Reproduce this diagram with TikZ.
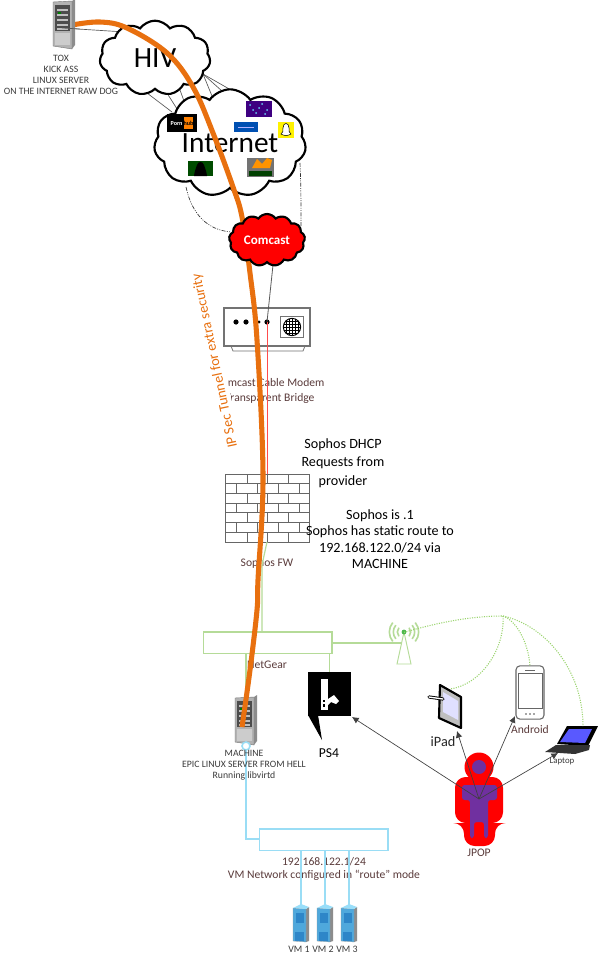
\documentclass[tikz,border=0pt]{standalone}
\usepackage{fontspec}
\setmainfont{Carlito}
\usetikzlibrary{shapes.symbols,arrows.meta,calc}
\definecolor{orangeline}{HTML}{E8700F}
\definecolor{greenline}{HTML}{B5DB98}
\definecolor{wifigreen}{HTML}{9AD46E}
\definecolor{blueline}{HTML}{9ADDF5}
\definecolor{lblbrown}{HTML}{5A3B3B}
\definecolor{lbldark}{HTML}{3A3A3A}
\definecolor{ppl}{HTML}{7030A0}
\newcommand{\fs}[1]{\fontsize{#1}{#1}\selectfont}
\tikzset{
  lbl/.style={inner sep=0pt,align=center,text=lbldark,font=\fs{7.3}},
  brn/.style={inner sep=0pt,align=center,text=lblbrown,font=\fs{8.7}},
  note/.style={inner sep=0pt,align=center,text=black,font=\fs{10.6}},
  cloudbox/.style={cloud,cloud puffs=11,cloud puff arc=110,aspect=1.5,draw=black,line width=1.6pt,fill=white,inner sep=0pt},
  anchorbox/.style={inner sep=0pt,outer sep=0pt},
  netbox/.style={inner sep=0pt,outer sep=0pt,draw,fill=white,line width=1pt},
  glink/.style={draw=greenline,line width=.9pt},
  blink/.style={draw=blueline,line width=1pt},
  wifi/.style={draw=wifigreen,line width=.8pt,dash pattern=on .8pt off 1pt},
  thin link/.style={draw=black!65,line width=.5pt},
  dashdot/.style={draw=black!80,line width=.5pt,dash pattern=on 3pt off 1pt on .7pt off 1pt on .7pt off 1pt},
  reach/.style={draw=black!75,line width=.5pt,-{Latex[length=5pt,width=5pt]}},
  pics/rack/.style={code={
    \fill[black!45] (8,-24)--(11,-26)--(11,20)--(8,24)--cycle;
    \fill[black!30,draw=black!55,line width=.3pt] (-11,-23)--(8,-24)--(8,24)--(-11,21)--cycle;
    \fill[black!70] (-9,-20) rectangle (6,6);
    \foreach \y in {-16,-11,-6,-1,3} \fill[black!25] (-7,\y) rectangle (4,\y+2);
    \fill[green!50!black] (-6,-13) rectangle (-3,-11);
    \fill[black!20] (-9,8) rectangle (6,20);
  }},
  pics/vmrack/.style={code={
    \fill[black!45] (5,-15)--(8,-17)--(8,17)--(5,18)--cycle;
    \fill[HTML4,draw=black!40,line width=.2pt] (-8,-16)--(5,-15)--(5,18)--(-8,17)--cycle;
    \fill[white!60!cyan] (-8,-16)--(0,-20)--(8,-17)--(5,-15)--cycle;
    \fill[HTML5] (-5,-11) rectangle (3,-1);
    \fill[HTML5] (-6,8) rectangle (3,17);
  }}
}
\definecolor{HTML4}{HTML}{4FA8DC}
\definecolor{HTML5}{HTML}{2E86C8}
\begin{document}
\begin{tikzpicture}[x=0.75pt,y=-0.75pt]
\useasboundingbox (0,0) rectangle (598,960);
\fill[white] (0,0) rectangle (598,960);

% --- anchors for the connectors
\node[anchorbox,minimum width=16.5pt,minimum height=36pt] (tox) at (64,25) {};
\node[anchorbox,minimum width=16.5pt,minimum height=36pt] (machine) at (246,721) {};
\coordinate (toxport) at (62,28);
\coordinate (hivleft) at (125,32);
\coordinate (h1) at (147,93); \coordinate (h2) at (165,90); \coordinate (h3) at (180,90);
\coordinate (h4) at (203,74);
\coordinate (i1) at (172,112); \coordinate (i2) at (179,112); \coordinate (i3) at (188,112);
\coordinate (i4) at (212,96); \coordinate (i5) at (232,100); \coordinate (i6) at (245,98);
\coordinate (ibl) at (186,187); \coordinate (ibr) at (300,163);
\coordinate (cl) at (231,232); \coordinate (cr) at (301,226);

% --- thin lines behind the clouds
\draw[thin link] (toxport) -- (hivleft);
\draw[thin link] (h1) -- (i1);
\draw[thin link] (h2) -- (i2);
\draw[thin link] (h3) -- (i3);
\draw[thin link] (h4) -- (i4);
\draw[thin link] (h4) -- (i5);
\draw[thin link] (h4) -- (i6);
\draw[dashdot] (ibl) .. controls (192,215) and (208,230) .. (cl);
\draw[dashdot] (ibr) .. controls (301,185) and (301,205) .. (cr);

% --- clouds
\node[cloudbox,minimum width=83pt,minimum height=56pt,font=\fs{22},text=black] (hiv) at (155,58) {HIV};
\node[cloudbox,minimum width=114pt,minimum height=76pt,font=\fs{22},text=black] (internet) at (230,143) {Internet};

% --- site icons in the cloud
\node[anchorbox,fill=black,minimum width=22.5pt,minimum height=13.5pt,text=white,font=\fs{4.6}\bfseries] (ph) at (182,123) {Porn\,\colorbox{orange}{\hspace{-3pt}\raisebox{0pt}[3pt][0pt]{\textcolor{black}{hub}}\hspace{-3pt}}};
\node[anchorbox,fill=blue!35!violet!75!black,minimum width=19.5pt,minimum height=12.5pt] (dark) at (259,109) {};
\foreach \a/\b in {250/105,256/113,262/104,267/110,259/108,253/110,265/114} \fill[cyan!60!white] (\a,\b) circle (1);
\node[anchorbox,fill=blue!55!cyan!70!black,minimum width=18pt,minimum height=7.5pt] (banner) at (246,127) {};
\fill[white!70!blue] (238,126.5) rectangle (254,128);
\node[anchorbox,fill=yellow,minimum width=12pt,minimum height=12pt] (snap) at (286,130) {};
\fill[white,draw=black,line width=.4pt] (281,134) .. controls (283,133) and (283,131) .. (283,128) .. controls (283,122) and (289,122) .. (289,128) .. controls (289,131) and (289,133) .. (291,134) .. controls (288,136) and (284,136) .. (281,134) -- cycle;
\node[anchorbox,fill=green!30!black,minimum width=18.5pt,minimum height=11pt] (hack) at (200.5,168.5) {};
\fill[black] (194,176) .. controls (195,168) and (197,167) .. (197,165) .. controls (198,161) and (203,161) .. (204,165) .. controls (204,167) and (206,168) .. (207,176) -- cycle;
\node[anchorbox,fill=black!55,minimum width=20pt,minimum height=14pt] (fire) at (260.5,167.5) {};
\fill[orange!85!yellow] (252,168) -- (257,159) -- (262,164) -- (267,158) -- (272,160) -- (270,168) -- cycle;
\fill[green!25!black] (249,171) rectangle (272,176);

% --- modem labels first: the tunnel line and its label cover them
\node[brn] (modemtext) at (270,391) {Comcast Cable Modem\\[2pt]Transparent Bridge};
\node[brn,fill=white,inner sep=1.5pt,outer sep=0pt,text=orangeline,font=\fs{10.7},rotate=102] (tunnel) at (215,361) {IP Sec Tunnel for extra security};

% --- modem
\node[netbox,draw=black!55,minimum width=64.5pt,minimum height=28.5pt] (modem) at (267,327) {};
\draw[black!55,line width=.6pt] (231,346) -- (233,351) -- (303,351) -- (305,346);
\foreach \a/\r in {236/2.6,246/2.6,259/1.6,267/2.6} \fill[black] (\a,322) circle (\r);
\node[netbox,draw=black!55,line width=.5pt,minimum width=17pt,minimum height=16pt] (globebox) at (292,327) {};
\fill[white,draw=black,line width=.7pt] (292,327) circle (6.5pt);
\begin{scope}
\clip (292,327) circle (6.5pt);
\foreach \d in {-6,-3,0,3,6} {\draw[black,line width=.5pt] (292+\d,317)--(292+\d,337); \draw[black,line width=.5pt] (282,327+\d)--(302,327+\d);}
\end{scope}

% --- firewall
\node[anchorbox,draw=black!60,line width=.6pt,minimum width=63.5pt,minimum height=51pt] (fw) at (267.5,508) {};
\foreach \i in {1,...,6} \draw[black!60,line width=.6pt] (225,474+\i*9.71) -- (310,474+\i*9.71);
\foreach \i in {0,2,4,6} \foreach \a in {247,267,288} \draw[black!60,line width=.6pt] (\a,474+\i*9.71) -- (\a,474+\i*9.71+9.71);
\foreach \i in {1,3,5} \foreach \a in {236,257,278,299} \draw[black!60,line width=.6pt] (\a,474+\i*9.71) -- (\a,474+\i*9.71+9.71);
\node[brn] (fwtext) at (267,563) {Sophos FW};

% --- connections through the centre
\draw[black!65,line width=.6pt] (273,265) -- (267,322);
\draw[red!70,line width=.5pt] (267,322) -- (fw.north -| 267,0);

\node[note] (dhcp) at (343,463) {Sophos DHCP\\[3.2pt]Requests from\\[3.2pt]provider};
\node[note] (static) at (380,539) {Sophos is .1\\[1.8pt]Sophos has static route to\\[1.8pt]192.168.122.0/24 via\\[1.8pt]MACHINE};

% --- netgear
\node[netbox,draw=greenline,minimum width=96.5pt,minimum height=16pt] (netgear) at (267.5,642.5) {};
\draw[glink] (267,542) -- (262,565) -- (262,632);
\node[brn] (ngtext) at (267,665) {NetGear};

% --- antenna
\node[anchorbox,minimum width=10pt,minimum height=22pt] (antenna) at (404,647) {};
\draw[glink] (332,643) -- (403,643);
\draw[draw=greenline,line width=.7pt,fill=white] (404,632) -- (397,664) -- (411,664) -- cycle;
\fill[green!60!black!70] (404,632) circle (2.4);
\foreach \r in {5,8,11} {
  \draw[draw=greenline,line width=1.2pt] (404,632) ++(140:\r pt) arc[start angle=140,end angle=220,radius=\r pt];
  \draw[draw=greenline,line width=1.2pt] (404,632) ++(40:\r pt) arc[start angle=40,end angle=-40,radius=\r pt];
}
\coordinate (wifihub) at (503,616);

% --- ps4
\node[anchorbox,fill=black,minimum width=32.5pt,minimum height=33pt] (ps4) at (329.5,694) {};
\fill[black] (308,715) -- (322,740) -- (318,715) -- cycle;
\fill[white] (321,679) rectangle (328,710);
\fill[black] (323,700) rectangle (325,702); \fill[black] (323,704) rectangle (325,707);
\fill[white] (328,699) -- (334,695) -- (339,701) -- (336,704) -- (331,702) -- (328,705) -- cycle;
\node[inner sep=0pt,font=\fs{10.2},text=black] (ps4text) at (329,753) {PS4};
\draw[glink] (netgear.south -| ps4.north) -- (ps4.north);

% --- ipad
\node[anchorbox,minimum width=16pt,minimum height=30pt] (ipad) at (450,707) {};
\draw[black,line width=1.6pt,fill=black!25,line join=round] (440,685) -- (461,697) -- (461,728) -- (439,718) -- cycle;
\fill[blue!12] (443,692) -- (458,701) -- (458,720) -- (443,712) -- cycle;
\draw[black,line width=2.4pt,line cap=round] (429,697) -- (443,699);
\draw[white,line width=1pt,line cap=round] (429,697) -- (443,699);
\node[inner sep=0pt,font=\fs{10.7},text=black!85] (ipadtext) at (443,742) {iPad};

% --- android
\node[anchorbox,draw=black!60,fill=white,line width=.8pt,rounded corners=3pt,minimum width=21pt,minimum height=40pt] (android) at (530,692.5) {};
\draw[black!60,line width=.5pt,fill=white] (518,673) rectangle (542,708);
\foreach \a in {526,530,534} \fill[black!70] (\a,714) circle (.9);
\draw[black!60,line width=.6pt] (525,670) -- (535,670);
\node[brn] (androidtext) at (530,730) {Android};

% --- laptop
\node[anchorbox,minimum width=38pt,minimum height=20pt] (laptop) at (571,739) {};
\fill[black] (557,744) -- (567,726) -- (598,726) -- (588,746) -- cycle;
\fill[blue!65!white] (560,742) -- (569,729) -- (592,729) -- (585,743) -- cycle;
\fill[black!80] (545,752) -- (556,745) -- (590,745) -- (589,750) -- (575,754) -- cycle;
\node[inner sep=0pt,font=\fs{6.6},text=lbldark] (laptoptext) at (562,761) {Laptop};

% --- wifi links
\draw[wifi] (antenna.north) .. controls (430,625) and (465,616) .. (wifihub);
\draw[wifi] (wifihub) .. controls (505,650) and (480,685) .. (450,689);
\draw[wifi] (wifihub) .. controls (515,620) and (528,640) .. (android.north);
\draw[wifi] (wifihub) .. controls (545,625) and (583,670) .. (583,726);

% --- person
\node[anchorbox,minimum width=36pt,minimum height=70pt] (jpop) at (479,799) {};
\fill[red] (479,767) circle (14.5);
\fill[red,rounded corners=8pt] (455,823) -- (455,777) -- (503,777) -- (503,823) -- (495,823) -- (495,846) -- (464,846) -- (464,823) -- cycle;
\fill[ppl] (479,767) circle (7);
\fill[ppl,rounded corners=2pt] (462,800) -- (462,785) -- (497,785) -- (497,800) -- (488,800) -- (488,838) -- (484,838) -- (484,822) -- (474,822) -- (474,838) -- (470,838) -- (470,800) -- cycle;
\coordinate (jpopc) at (479,799);
\node[brn] (jpoptext) at (479,853) {JPOP};
\draw[reach] (jpopc) -- (352,717);
\draw[reach] (jpopc) -- (457,731);
\draw[reach] (jpopc) -- (515,716);
\draw[reach] (jpopc) -- (558,753);

% --- VM network
\draw[blink] (246,750) |- (259,839);
\node[netbox,draw=blueline,minimum width=96.5pt,minimum height=16pt] (vmnet) at (323.5,839.5) {};
\node[brn] (vmtext) at (324,869) {192.168.122.1/24\\[1.5pt]VM Network configured in “route” mode};
\foreach \n/\a in {1/301,2/325,3/349} {
  \node[anchorbox,minimum width=11pt,minimum height=26pt] (vm\n) at (\a,924) {};
  \draw[blink] (\a,850) -- (vm\n.north);
  \pic at (\a,924) {vmrack};
  \node[inner sep=0pt,font=\fs{7.4},text=lbldark] at (\a-2,949) {VM \n};
}

% --- machine
\draw[glink] (246,653) -- (machine.north);
\pic at (246,721) {rack};

% --- tunnel over everything before it, comcast over the tunnel
\draw[orangeline,line width=3.8pt] plot[smooth,tension=.6] coordinates {(72,25) (100,22) (127,28) (167,53) (193,87) (213,133) (233,187) (242,217) (250,273) (257,340) (263,476) (258,580) (257,610) (250,670) (242,727)};
\pic at (64,25) {rack};
\draw[thin link] (toxport) -- (80,29);
\node[cloudbox,fill=red,minimum width=57pt,minimum height=39pt,cloud puffs=13,text=white,font=\fs{9.8}\bfseries] (comcast) at (267,240) {Comcast};

% --- machine status + labels
\draw[blueline,line width=1.2pt,fill=white] (246,746) circle (4);
\node[lbl] (toxtext) at (61,74.5) {TOX\\[.9pt]KICK ASS\\[.9pt]LINUX SERVER\\[.9pt]ON THE INTERNET RAW DOG};
\node[lbl] (mtext) at (244,765.5) {MACHINE\\[.9pt]EPIC LINUX SERVER FROM HELL\\[.9pt]Running libvirtd};
\end{tikzpicture}
\end{document}
